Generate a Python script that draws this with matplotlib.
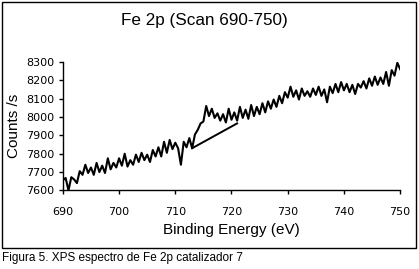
import matplotlib
matplotlib.use("Agg")
import matplotlib.pyplot as plt
from matplotlib.patches import Rectangle

# Fe 2p XPS spectrum (0.5 eV steps)
energy_start = 690.0
energy_step = 0.5
counts = [
    7655, 7668, 7600, 7672, 7660, 7640, 7705, 7685, 7740, 7695,
    7725, 7685, 7750, 7700, 7735, 7695, 7775, 7715, 7750, 7725,
    7775, 7735, 7800, 7730, 7765, 7740, 7795, 7755, 7805, 7765,
    7795, 7755, 7820, 7785, 7835, 7785, 7865, 7805, 7875, 7825,
    7860, 7830, 7740, 7865, 7835, 7885, 7830, 7905, 7930, 7965,
    7975, 8060, 8005, 8045, 7995, 8020, 7980, 8015, 7970, 8045,
    7985, 8025, 7980, 8055, 7995, 8040, 7990, 8065, 8005, 8055,
    8015, 8075, 8025, 8085, 8045, 8095, 8055, 8115, 8075, 8135,
    8105, 8165, 8110, 8145, 8095, 8155, 8115, 8140, 8110, 8155,
    8120, 8165, 8115, 8150, 8080, 8165, 8130, 8180, 8135, 8190,
    8145, 8180, 8135, 8175, 8125, 8180, 8160, 8195, 8155, 8210,
    8170, 8220, 8175, 8215, 8180, 8245, 8170, 8255, 8225, 8295,
    8260,
]
energy = [energy_start + i * energy_step for i in range(len(counts))]

# linear background under the peak
bg_energy = [713.0, 721.0]
bg_counts = [7830, 7965]

x_ticks = [690, 700, 710, 720, 730, 740, 750]
y_ticks = [7600, 7700, 7800, 7900, 8000, 8100, 8200, 8300]

plt.rcParams["font.family"] = ["Liberation Sans", "DejaVu Sans"]

fig = plt.figure(figsize=(4.19, 2.69), dpi=100)
ax = fig.add_axes([0.150, 0.292, 0.805, 0.478])

ax.plot(energy, counts, color="black", linewidth=1.5)
ax.plot(bg_energy, bg_counts, color="black", linewidth=1.4)

ax.set_xlim(690, 750)
ax.set_ylim(7600, 8300)
ax.set_xticks(x_ticks)
ax.set_yticks(y_ticks)
ax.tick_params(labelsize=8, length=3, width=1, direction="out")
ax.tick_params(axis="x", pad=9)
ax.tick_params(axis="y", pad=3)
for lbl in ax.get_xticklabels() + ax.get_yticklabels():
    lbl.set_family("DejaVu Sans")
for side in ("top", "right"):
    ax.spines[side].set_visible(False)
for side in ("left", "bottom"):
    ax.spines[side].set_linewidth(1)

ax.set_xlabel("Binding Energy (eV)", fontsize=11, labelpad=4)
ax.set_ylabel("Counts /s", fontsize=11, labelpad=4)

fig.text(0.487, 0.925, "Fe 2p (Scan 690-750)", fontsize=12.3,
         ha="center", va="center")

# frame around the chart area
fig.patches.append(Rectangle((0.004, 0.078), 0.988, 0.916, transform=fig.transFigure,
                             fill=False, edgecolor="black", linewidth=1))

fig.text(0.005, 0.04, "Figura 5. XPS espectro de Fe 2p catalizador 7",
         fontsize=8.5, ha="left", va="center")

fig.savefig("out.png", dpi=100)
